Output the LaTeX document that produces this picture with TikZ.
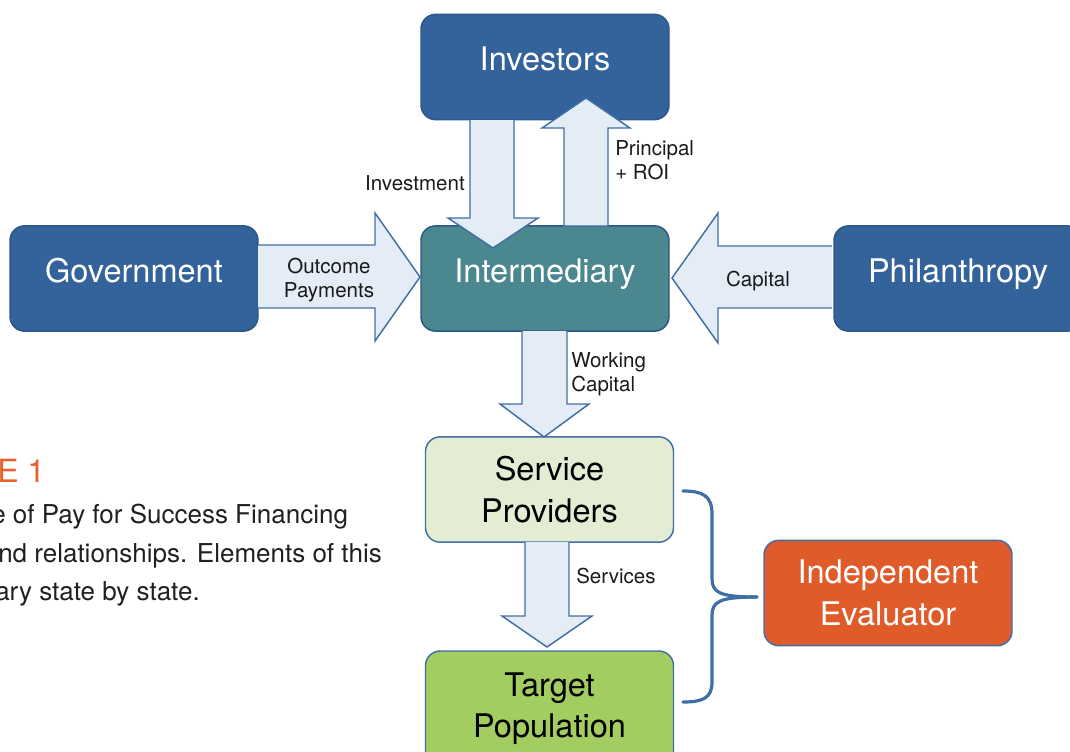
\documentclass[tikz,border=0pt]{standalone}
\usepackage{fontspec}
\setmainfont{TeX Gyre Heros}
\definecolor{boxblue}{HTML}{33639A}
\definecolor{boxline}{HTML}{2C5788}
\definecolor{tealbox}{HTML}{4B878F}
\definecolor{lightgreen}{HTML}{E3EDD4}
\definecolor{greenbox}{HTML}{A3CD60}
\definecolor{orangebox}{HTML}{E05B2A}
\definecolor{arrowfill}{HTML}{E4EDF6}
\definecolor{arrowline}{HTML}{3F6FA5}
\definecolor{captionorange}{HTML}{E8602C}
\definecolor{captiontext}{HTML}{231F20}
\definecolor{labeltext}{HTML}{1A1A1A}
\begin{document}
\begin{tikzpicture}[x=0.75pt,y=-0.75pt,
  box/.style={rounded corners=11pt, line width=1.1pt, minimum width=186pt, minimum height=79pt,
    align=center, font=\fontsize{24.4}{31}\selectfont, inner sep=0pt, outer sep=0pt},
  oneline/.style={text height=18pt, text depth=12.5pt},
  bluebox/.style={box, oneline, fill=boxblue, draw=boxline, text=white},
  blk/.style={fill=arrowfill, draw=arrowline, line width=1.1pt, line join=miter},
  lbl/.style={font=\fontsize{15.4}{18}\selectfont, text=labeltext, inner sep=0pt},
  captxt/.style={font=\fontsize{19.5}{24}\selectfont, text=captiontext, inner sep=0pt, anchor=base west}]
\useasboundingbox (0,0) rectangle (1070,751);
\clip (0,0) rectangle (1070,751);

% caption
\node[captxt, font=\fontsize{24}{28}\selectfont, text=captionorange] (capt) at (-3,482) {E 1};
\node[captxt] (cap1) at (-9,523) {e of Pay for Success Financing};
\node[captxt] (cap2) at (-2,562) {nd relationships. Elements of this};
\node[captxt] (cap3) at (-5,600) {ary state by state.};

% boxes
\node[bluebox] (inv) at (545,67) {Investors};
\node[bluebox] (gov) at (134,278.5) {Government};
\node[box, oneline, fill=tealbox, draw=boxline, text=white] (inter) at (545,278.5) {Intermediary};
\node[bluebox] (phil) at (958,278.5) {Philanthropy};
\node[box, fill=lightgreen, draw=arrowline, text=black] (sp) at (549.5,489.5) {Service\\Providers};
\node[box, fill=greenbox, draw=arrowline, text=black, minimum height=86.25pt] (tp) at (549.5,708.5) {Target\\Population};
\node[box, fill=orangebox, draw=arrowline, text=white] (ie) at (888,593) {Independent\\Evaluator};

% block arrows
\draw[blk] (470,120) -- (470,218) -- (448,218) -- (493,248) -- (538,218) -- (514,218) -- (514,120);
\draw[blk] (564,226) -- (564,128) -- (542,128) -- (586,98) -- (630,128) -- (608,128) -- (608,226) -- cycle;
\draw[blk] (258,245) -- (375,245) -- (375,213) -- (420,277) -- (375,341) -- (375,308) -- (258,308);
\draw[blk] (832,246) -- (718,246) -- (718,213) -- (672,278) -- (718,343) -- (718,308) -- (832,308);
\draw[blk] (522,331) -- (522,404) -- (500,404) -- (544,437) -- (589,404) -- (567,404) -- (567,331);
\draw[blk] (525,542) -- (525,616) -- (502,616) -- (547,647) -- (592,616) -- (569,616) -- (569,542);

% labels
\node[lbl, anchor=base east] (linv) at (465,190) {Investment};
\node[lbl, anchor=west, align=left] (lpri) at (615,160) {Principal\\+ ROI};
\node[lbl, align=center] (lout) at (329,280) {Outcome\\Payments};
\node[lbl] (lcap) at (758,281) {Capital};
\node[lbl, anchor=west, align=left] (lwc) at (571,374) {Working\\Capital};
\node[lbl, anchor=west] (lser) at (576,576) {Services};

% brace
\coordinate (btop) at (683,491);
\coordinate (bbot) at (683,702);
\coordinate (btip) at (757,597);
\draw[arrowline, line width=2.4pt, line cap=round]
  (btop) .. controls (703,491) and (712,496) .. (712,514) -- (712,578)
  .. controls (712,592) and (718,597) .. (btip);
\draw[arrowline, line width=2.4pt, line cap=round]
  (btip) .. controls (718,597) and (712,602) .. (712,616) -- (712,682)
  .. controls (712,698) and (703,702) .. (bbot);
\end{tikzpicture}
\end{document}
